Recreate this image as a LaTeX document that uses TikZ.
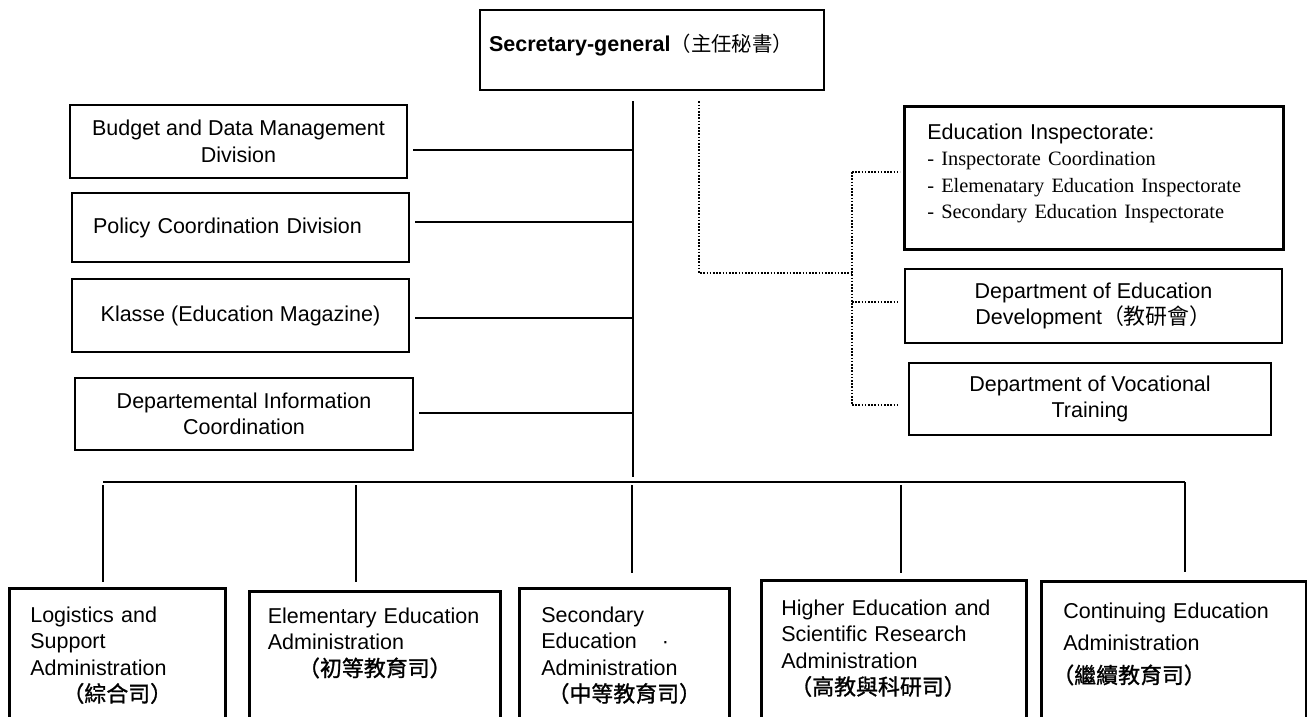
\documentclass[tikz,border=0pt]{standalone}
\usepackage{fontspec}
\setmainfont{Liberation Sans}
\newfontfamily\timesfont{Liberation Serif}
\newfontfamily\cjk[Scale=1.02]{Noto Sans CJK TC}
\newfontfamily\cjkb[Scale=1.02,FakeBold=1.2]{Noto Sans CJK TC}
\usepackage{tikz}
\tikzset{
  every node/.style={
    font=\fontsize{21.5}{26.5}\selectfont
  },
  unit/.style={draw, line width=2.6pt, align=center},
  topunit/.style={draw, line width=2.6pt, anchor=north west, align=left,
    inner ysep=0pt, text depth=200pt},
  link/.style={line width=2pt},
  dots/.style={line width=1.6pt, dash pattern=on 1.6pt off 1.6pt}
}

\begin{document}
\begin{tikzpicture}[x=1pt,y=-1pt]
  \useasboundingbox (0,0) rectangle (1307,716);
  \clip (0,0) rectangle (1307,716);

  \node [unit, minimum width=344pt, minimum height=80pt, text width=326pt,
    inner xsep=9pt, align=left, text height=12pt, text depth=8.6pt,
    font=\bfseries\fontsize{21.5}{26}\selectfont]
    (Sec) at (652,50) {Secretary-general{\mdseries\cjk\fontsize{20}{26}\selectfont（主任秘書）}};

  % staff divisions on the left
  \node [unit, minimum width=337pt, minimum height=73pt] (Budget) at (238.5,141.5)
    {Budget and Data Management\\Division};
  \node [unit, minimum width=337pt, minimum height=69pt, text width=295pt,
    inner xsep=21pt, align=left] (Policy) at (240.5,227.5)
    {Policy Coordination Division};
  \node [unit, minimum width=337pt, minimum height=73pt] (Klasse) at (240.5,315.5)
    {Klasse (Education Magazine)};
  \node [unit, minimum width=338pt, minimum height=72pt] (Info) at (244,414)
    {Departemental Information\\Coordination};

  \coordinate (SpineEnd) at (633,477);
  \draw [link, shorten <=10pt] (Sec.south -| SpineEnd) -- (SpineEnd);
  \foreach \unitname/\y in {Budget/150, Policy/222, Klasse/318, Info/413} {
    \coordinate (J\unitname) at (633,\y);
    \draw [link, shorten <=5pt] (\unitname.east |- J\unitname) -- (J\unitname);
  }

  % dotted side branch
  \node [topunit, text width=333pt, inner xsep=23pt, text height=33pt,
    text depth=110pt] (Insp) at (903,105)
    {Education Inspectorate:\\
     {\timesfont\fontsize{20.4}{26.5}\selectfont - Inspectorate Coordination}\\
     {\timesfont\fontsize{20.4}{26.5}\selectfont - Elemenatary Education Inspectorate}\\
     {\timesfont\fontsize{20.4}{26.5}\selectfont - Secondary Education Inspectorate}};
  \node [unit, minimum width=377pt, minimum height=74pt] (Dev) at (1093.5,306)
    {Department of Education\\Development{\cjk（教研會）}};
  \node [unit, minimum width=362pt, minimum height=72pt] (Voc) at (1090,399)
    {Department of Vocational\\Training};

  \coordinate (Elbow) at (699,273);
  \coordinate (Fork) at (852,273);
  \coordinate (ForkTop) at (852,172);
  \coordinate (ForkMid) at (852,302);
  \coordinate (ForkEnd) at (852,405);
  \draw [dots, shorten <=10pt] (Sec.south -| Elbow) -- (Elbow) -- (Fork);
  \draw [dots] (ForkTop) -- (ForkEnd);
  \draw [dots, shorten >=3pt] (ForkTop) -- (ForkTop -| Insp.west);
  \draw [dots, shorten >=5pt] (ForkMid) -- (ForkMid -| Dev.west);
  \draw [dots, shorten >=9pt] (ForkEnd) -- (ForkEnd -| Voc.west);

  % administrations
  \node [topunit, text width=174pt, inner xsep=21pt, text height=34pt] (Logi) at (8,587)
    {Logistics and\\Support\\Administration\\\makebox[\linewidth]{\cjkb（綜合司）}};
  \node [topunit, text width=214pt, inner xsep=18.5pt, text height=32pt] (Elem) at (248,590)
    {Elementary Education\\Administration\\\makebox[\linewidth]{\cjkb（初等教育司）}};
  \node [topunit, text width=166pt, inner xsep=22pt, text height=34pt] (Secd) at (518,587)
    {Secondary\\Education\hspace{25pt}·\\Administration\\\makebox[\linewidth]{\cjkb（中等教育司）}};
  \node [topunit, text width=225pt, inner xsep=20pt, text height=35pt] (High) at (760,579)
    {Higher Education and\\Scientific Research\\Administration\\\hspace*{9pt}{\cjkb（高教與科研司）}};
  \node [topunit, text width=221pt, inner xsep=22pt, text height=37pt,
    font=\fontsize{21.5}{32.5}\selectfont] (Cont) at (1040,580)
    {Continuing Education\\Administration\\\hspace*{-11pt}{\cjkb（繼續教育司）}};

  \coordinate (BusL) at (103,482);
  \coordinate (BusR) at (1185,482);
  \draw [link] (BusL) -- (BusR);
  \foreach \unitname/\x/\gap in {Logi/103/5pt, Elem/356/8pt, Secd/632/14pt, High/901/6pt} {
    \coordinate (D\unitname) at (\x,485);
    \draw [link, shorten >=\gap] (D\unitname) -- (D\unitname |- \unitname.north);
  }
  \draw [link, shorten >=8pt] (BusR) -- (BusR |- Cont.north);
\end{tikzpicture}
\end{document}
